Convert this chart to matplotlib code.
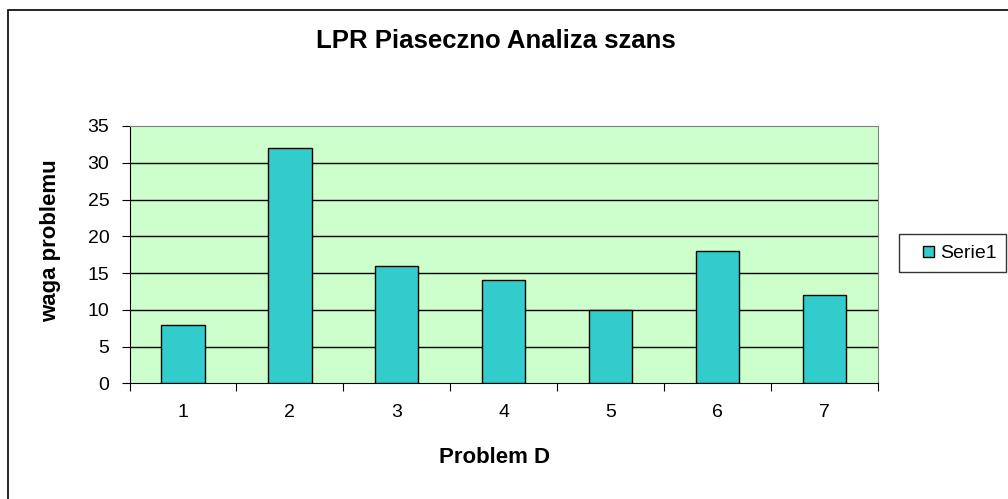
import matplotlib.pyplot as plt
from matplotlib.patches import Rectangle
from matplotlib.legend_handler import HandlerPatch

# Data
categories = [1, 2, 3, 4, 5, 6, 7]
values = [8, 32, 16, 14, 10, 18, 12]

plt.rcParams['font.family'] = ['Liberation Sans', 'DejaVu Sans']


class SquareHandler(HandlerPatch):
    # small square at the right end of the handle box, like Excel
    def create_artists(self, legend, orig_handle, xdescent, ydescent,
                       width, height, fontsize, trans):
        s = 11 * 72 / 100
        p = Rectangle((width - s - xdescent, (height - s) / 2 - ydescent), s, s,
                      facecolor=orig_handle.get_facecolor(),
                      edgecolor='black', linewidth=1)
        p.set_transform(trans)
        return [p]


fig = plt.figure(figsize=(10.08, 4.99), dpi=100)
ax = fig.add_axes([0.1285, 0.2315, 0.7425, 0.516])

# outer chart border (left and top visible)
fig.patches.append(Rectangle((8 / 1008, -0.1), 1.2, (499 - 10) / 499 + 0.1,
                             transform=fig.transFigure, fill=False,
                             edgecolor='black', linewidth=1.2))

ax.set_facecolor('#CCFFCC')
bars = ax.bar(categories, values, width=0.405, color='#33CCCC', edgecolor='black',
              linewidth=1, label='Serie1', zorder=3)

# Horizontal grid lines
for y in range(5, 35, 5):
    ax.axhline(y, color='black', linewidth=1, zorder=1)

ax.set_xlim(0.5, 7.5)
ax.set_ylim(0, 35)
ax.set_yticks(range(0, 36, 5))
ax.set_xticks([c - 0.5 for c in categories] + [7.5])
ax.set_xticklabels([])
ax.set_xticks(categories, minor=True)
ax.set_xticklabels([str(c) for c in categories], minor=True)
ax.tick_params(axis='x', which='major', length=6, direction='out')
ax.tick_params(axis='x', which='minor', length=0, pad=15, labelsize=14)
ax.tick_params(axis='y', length=6, direction='out', labelsize=14, pad=8.5)

for side in ['top', 'right']:
    ax.spines[side].set_color('#808080')
for side in ['left', 'bottom']:
    ax.spines[side].set_color('black')

ax.set_title('LPR Piaseczno Analiza szans', fontsize=18.5, fontweight='bold',
             pad=0, x=0.489, y=1.33, va='center')
ax.set_xlabel('Problem D', fontsize=16, fontweight='bold', va='center')
ax.xaxis.set_label_coords(0.487, -0.287)
ax.set_ylabel('waga problemu', fontsize=16, fontweight='bold', va='center')
ax.yaxis.set_label_coords(-0.106, 0.556)

leg = ax.legend(handles=[bars.patches[0]], labels=['Serie1'],
                handler_map={Rectangle: SquareHandler()},
                loc='center left', bbox_to_anchor=(899 / 1008, (499 - 253) / 499),
                bbox_transform=fig.transFigure, borderaxespad=0,
                frameon=True, fancybox=False, edgecolor='black', fontsize=14,
                handlelength=1.29, handleheight=0.7, handletextpad=0.3,
                borderpad=0.5)
leg.get_frame().set_linewidth(1)

fig.savefig('out.png', dpi=100)
